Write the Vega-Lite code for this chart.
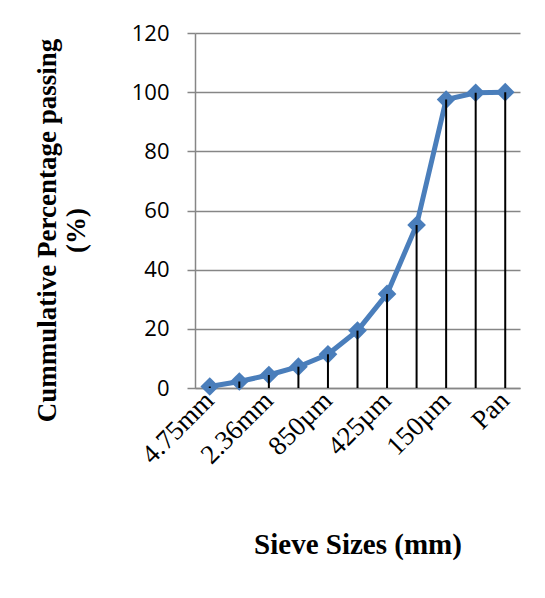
{
  "$schema": "https://vega.github.io/schema/vega-lite/v6.json",
  "autosize": "none",
  "width": 325,
  "height": 355,
  "padding": {"left": 195, "top": 33, "right": 25, "bottom": 210},
  "background": "white",
  "config": {"view": {"stroke": null}},
  "data": {"values": [
    {"sieve": "4.75mm", "pct": 0.5},
    {"sieve": "3.35mm", "pct": 2.2},
    {"sieve": "2.36mm", "pct": 4.4},
    {"sieve": "1.18mm", "pct": 7.2},
    {"sieve": "850µm", "pct": 11.4},
    {"sieve": "600µm", "pct": 19.4},
    {"sieve": "425µm", "pct": 31.8},
    {"sieve": "300µm", "pct": 55.1},
    {"sieve": "150µm", "pct": 97.5},
    {"sieve": "75µm", "pct": 99.8},
    {"sieve": "Pan", "pct": 100}
  ]},
  "encoding": {
    "x": {"field": "sieve", "type": "ordinal", "sort": null,
      "scale": {"paddingInner": 0, "paddingOuter": 0},
      "axis": {"values": ["4.75mm", "2.36mm", "850µm", "425µm", "150µm", "Pan"],
        "labelAngle": -45, "labelAlign": "right", "labelBaseline": "middle",
        "labelFont": "Liberation Serif", "labelFontSize": 27, "labelColor": "black",
        "labelPadding": 8, "ticks": false, "domainColor": "#868686", "domainWidth": 1.5,
        "title": "Sieve Sizes (mm)", "titleFont": "Liberation Serif", "titleFontSize": 29,
        "titleFontWeight": "bold", "titleColor": "black", "titlePadding": 62}},
    "y": {"field": "pct", "type": "quantitative",
      "scale": {"domain": [0, 120]},
      "axis": {"values": [0, 20, 40, 60, 80, 100, 120], "grid": true, "gridColor": "#868686", "gridWidth": 1.5,
        "domainColor": "#868686", "domainWidth": 1.5, "tickColor": "#868686", "tickSize": 8, "tickWidth": 1.5,
        "labelFont": "Open Sans", "labelFontSize": 22, "labelColor": "black", "labelPadding": 18,
        "title": ["Cummulative Percentage passing", "(%)"], "titleFont": "Liberation Serif",
        "titleFontSize": 27, "titleFontWeight": "bold", "titleColor": "black", "titlePadding": 41, "titleY": 197}}
  },
  "layer": [
    {"mark": {"type": "line", "color": "#4A7EBB", "strokeWidth": 5}},
    {"mark": {"type": "point", "shape": "diamond", "filled": true, "color": "#4A7EBB", "size": 350, "opacity": 1}},
    {"mark": {"type": "rule", "color": "black", "strokeWidth": 2}, "encoding": {"y2": {"datum": 0}}}
  ]
}
